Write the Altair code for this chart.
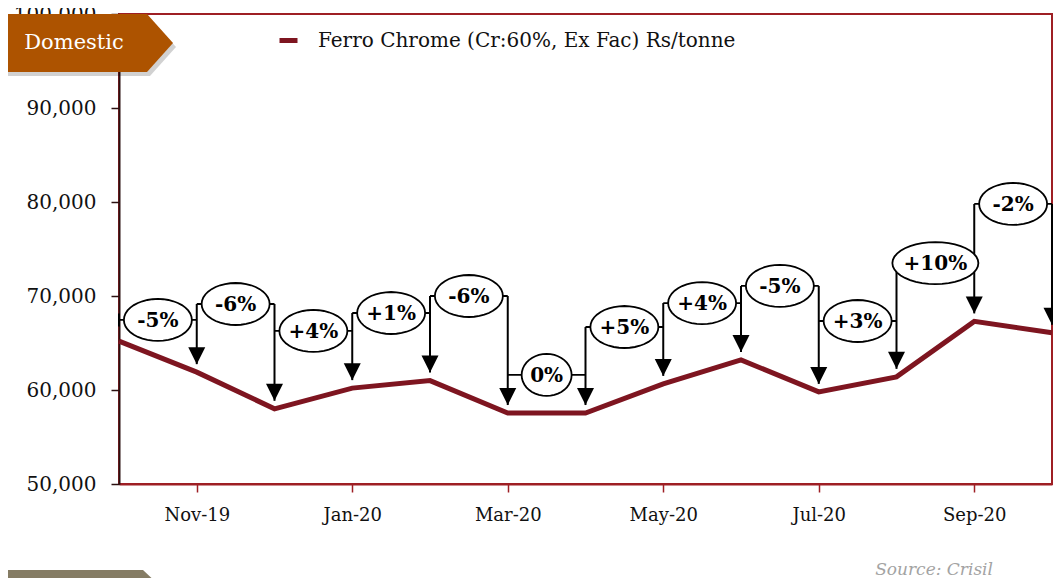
import json
import math
import altair as alt
import pandas as pd

# ---------------- data ----------------
months = ["Oct-19", "Nov-19", "Dec-19", "Jan-20", "Feb-20", "Mar-20", "Apr-20",
          "May-20", "Jun-20", "Jul-20", "Aug-20", "Sep-20", "Oct-20"]
prices = [65200, 61900, 58000, 60200, 61000, 57550, 57550,
          60650, 63200, 59800, 61400, 67300, 66100]
change_labels = ["-5%", "-6%", "+4%", "+1%", "-6%", "0%", "+5%",
                 "+4%", "-5%", "+3%", "+10%", "-2%"]
label_levels = [67450, 69150, 66280, 68190, 70000, 61600, 66700,
                69250, 71070, 67340, 73500, 79790]
tick_months = ["Nov-19", "Jan-20", "Mar-20", "May-20", "Jul-20", "Sep-20"]
y_ticks = [50000, 60000, 70000, 80000, 90000, 100000]
series_name = "Ferro Chrome (Cr:60%, Ex Fac) Rs/tonne"
tag_text = "Domestic"
source_text = "Source: Crisil"

# ---------------- tables ----------------
n = len(months)
line_df = pd.DataFrame({"x": list(range(n)), "y": prices, "series": series_name})


def ellipse_path(ratio, steps=40):
    pts = []
    for s in range(steps):
        t = 2 * math.pi * s / steps
        pts.append(f"{math.cos(t):.4f} {ratio * math.sin(t):.4f}")
    return "M " + " L ".join(pts) + " Z"


GAP = 850  # arrow tip sits a little above the point
ann_rows, conn_rows = [], []
for k, (lab, lev) in enumerate(zip(change_labels, label_levels)):
    w = 18 * len(lab) + 14
    h = 42
    ann_rows.append({"x": k, "x2": k + 1, "xm": k + 0.5, "y": lev,
                     "label": lab, "path": ellipse_path(h / w), "size": w * w})
ann_df = pd.DataFrame(ann_rows)

for j in range(1, n):
    top = label_levels[j - 1]
    if j < len(label_levels):
        top = max(top, label_levels[j])
    conn_rows.append({"x": j, "y": top, "y2": prices[j] + GAP})
conn_rows.append({"x": 0, "y": label_levels[0] + 700, "y2": label_levels[0] - 700})
conn_df = pd.DataFrame(conn_rows)
tip_df = pd.DataFrame({"x": list(range(1, n)), "y": [p + GAP for p in prices[1:]]})

one = pd.DataFrame({"a": [0]})

# ---------------- scales / axes ----------------
RED = "#9E1F24"
DARK = "#2B1010"
SERIF = "DejaVu Serif"

axis_x = alt.Axis(values=[months.index(m) for m in tick_months],
                  labelExpr=f"{json.dumps(months)}[datum.value]",
                  title=None, grid=False, domainColor=RED, domainWidth=2,
                  tickColor=RED, tickWidth=1.5, tickSize=8,
                  labelFont=SERIF, labelFontSize=18, labelColor="#111",
                  labelPadding=14)
axis_y = alt.Axis(values=y_ticks, labelExpr="format(datum.value, ',')",
                  title=None, grid=False,
                  domainColor=DARK, domainWidth=2, tickColor=DARK, tickWidth=1.5,
                  tickSize=8, labelFont=SERIF, labelFontSize=20, labelColor="#111",
                  labelPadding=15)
xs = alt.Scale(domain=[0, n - 1], nice=False, zero=False)
ys = alt.Scale(domain=[y_ticks[0], y_ticks[-1]], nice=False, zero=False)
X = alt.X("x:Q", scale=xs, axis=axis_x)
Y = alt.Y("y:Q", scale=ys, axis=axis_y)
XM = alt.X("xm:Q", scale=xs, axis=axis_x)

# ---------------- layers ----------------
line = alt.Chart(line_df).mark_line(strokeWidth=5).encode(
    x=X, y=Y,
    color=alt.Color("series:N", scale=alt.Scale(range=["#7E1520"]),
                    legend=alt.Legend(orient="none", legendX=158, legendY=15,
                                      title=None, labelFont=SERIF, labelFontSize=20,
                                      labelColor="#111", labelLimit=0,
                                      symbolType="stroke",
                                      symbolStrokeWidth=5, symbolSize=324,
                                      labelOffset=18, padding=0)))

brackets = alt.Chart(ann_df).mark_rule(color="black", strokeWidth=1.8).encode(
    x=X, x2="x2:Q", y=Y)

connectors = alt.Chart(conn_df).mark_rule(color="black", strokeWidth=2).encode(
    x=X, y=Y, y2="y2:Q")

arrows = alt.Chart(tip_df).mark_point(
    shape="M -1 -2 L 1 -2 L 0 0 Z", size=289, filled=True, fill="black",
    strokeWidth=0, opacity=1).encode(x=X, y=Y)

ellipses = alt.Chart(ann_df).mark_point(
    filled=True, fill="white", stroke="black", strokeWidth=1.8, opacity=1).encode(
    x=XM, y=Y,
    shape=alt.Shape("path:N", scale=None, legend=None),
    size=alt.Size("size:Q", scale=None, legend=None))

labels = alt.Chart(ann_df).mark_text(
    font=SERIF, fontSize=20, fontWeight="bold", color="black",
    baseline="middle", align="center", dy=1).encode(
    x=XM, y=Y, text="label:N")

# decorations (pixel placed, not data)
TAG = "M -117 0 L 28 0 L 54 29 L 28 58 L -117 58 Z"
tag_shadow = alt.Chart(one).mark_point(
    shape=TAG, size=4, filled=True, fill="#000000", opacity=0.18, strokeWidth=0).encode(
    x=alt.value(3), y=alt.value(4))
tag = alt.Chart(one).mark_point(
    shape=TAG, size=4, filled=True, fill="#AD5300", opacity=1, strokeWidth=0).encode(
    x=alt.value(0), y=alt.value(0))
tag_label = alt.Chart(one).mark_text(
    font=SERIF, fontSize=21, color="white", align="center", baseline="middle").encode(
    x=alt.value(-45), y=alt.value(29), text=alt.value(tag_text))

BTAG = "M -118 0 L 24 0 L 41 16 L 41 40 L -118 40 Z"
btag = alt.Chart(one).mark_point(
    shape=BTAG, size=4, filled=True, fill="#857C64", opacity=1, strokeWidth=0).encode(
    x=alt.value(0), y=alt.value(556))
source = alt.Chart(one).mark_text(
    font=SERIF, fontSize=17, fontStyle="italic", color="#A3A3A3",
    align="right", baseline="middle").encode(
    x=alt.value(874), y=alt.value(556), text=alt.value(source_text))

chart = alt.layer(
    line, brackets, connectors, arrows, ellipses, labels,
    tag_shadow, tag, tag_label, btag, source
).properties(
    width=933, height=470,
    autosize=alt.AutoSizeParams(type="none"),
    padding={"left": 111, "top": 6, "right": 1, "bottom": 94},
).configure(background="white").configure_view(stroke=RED, strokeWidth=2)

chart.save("out.html", embed_options={"renderer": "svg", "actions": False})
